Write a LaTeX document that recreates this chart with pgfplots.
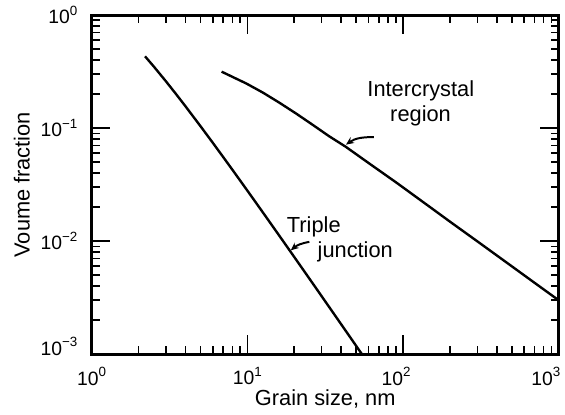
\documentclass[border=0pt]{standalone}
\usepackage{fontspec}
\setmainfont{Liberation Sans}
\usepackage{pgfplots}
\pgfplotsset{compat=1.18}
\usetikzlibrary{arrows.meta}
\newcommand{\sups}[1]{\raisebox{0.42em}{\fontsize{13.5}{15}\selectfont #1}}
\begin{document}
\fontsize{19}{23}\selectfont
\begin{tikzpicture}
\begin{loglogaxis}[
 name=main,
 scale only axis, width=471pt, height=342pt,
 xmin=1, xmax=1000, ymin=1e-3, ymax=1,
 xtick={1,10,100,1000},
 minor xtick={2,3,4,5,6,7,8,9,20,30,40,50,60,70,80,90,200,300,400,500,600,700,800,900},
 xticklabels={10\sups{0},10\sups{1},\makebox[0pt][c]{\kern-14pt 10\sups{2}},\makebox[0pt][c]{\kern-26pt 10\sups{3}}},
 ytick={0.001,0.01,0.1,1},
 minor ytick={0.002,0.003,0.004,0.005,0.006,0.007,0.008,0.009,0.02,0.03,0.04,0.05,0.06,0.07,0.08,0.09,0.2,0.3,0.4,0.5,0.6,0.7,0.8,0.9},
 yticklabels={\raisebox{16pt}{10\sups{−3}},10\sups{−2},10\sups{−1},10\sups{0}},
 tick label style={font=\fontsize{19.5}{23}\selectfont},
 xticklabel style={yshift=-7pt},
 yticklabel style={xshift=-8pt},
 label style={font=\fontsize{22}{26}\selectfont},
 xlabel={Grain size, nm},
 ylabel={Voume fraction},
 xlabel style={yshift=8pt},
 ylabel style={yshift=-2pt},
 axis line style={line width=3pt},
 tick style={line width=1.6pt, black},
 major tick length=19pt,
 minor tick length=8pt,
 clip=true,
]
\addplot[line width=2.4pt, black] coordinates {(2.2,0.432) (2.5,0.352) (3,0.2593) (3.5,0.1983) (4,0.1563) (5,0.104) (6,0.0741) (7,0.05539) (8,0.04297) (10,0.028) (12,0.01968) (15,0.01274) (18,0.008916) (22,0.00601) (27,0.004014) (33,0.002699) (40,0.001844) (47,0.001339) (54,0.001016) (56,0.00094)};
\addplot[line width=2.4pt, black] coordinates {(6.83,0.316) (9.86,0.248) (12.6,0.206) (16.1,0.1675) (20.6,0.1344) (26.3,0.1069) (33.5,0.0848) (42.8,0.0685) (60,0.0492) (91.4,0.0327) (150,0.0199) (200,0.0149) (300,0.00997) (500,0.00599) (700,0.00428) (1000,0.00300)};
\node[anchor=base west, inner sep=0pt, font=\fontsize{22}{26}\selectfont] at (axis cs:58.9,0.191) {Intercrystal};
\node[anchor=base west, inner sep=0pt, font=\fontsize{22}{26}\selectfont] at (axis cs:82.5,0.1151) {region};
\node[anchor=base west, inner sep=0pt, font=\fontsize{22}{26}\selectfont] at (axis cs:17.9,0.0120) {Triple};
\node[anchor=base west, inner sep=0pt, font=\fontsize{22}{26}\selectfont] at (axis cs:28.2,0.00724) {junction};
\draw[line width=2pt, -{Stealth[length=8pt,width=7pt]}] (axis cs:65,0.0834) to[out=180,in=35] (axis cs:43,0.0715);
\draw[line width=2pt, -{Stealth[length=8pt,width=7pt]}] (axis cs:25,0.00986) to[out=190,in=40] (axis cs:19,0.0083);
\end{loglogaxis}
\path (main.south west) ++(-92.5pt,-61pt) rectangle ([shift={(2pt,13pt)}]main.north east);
\end{tikzpicture}
\end{document}
